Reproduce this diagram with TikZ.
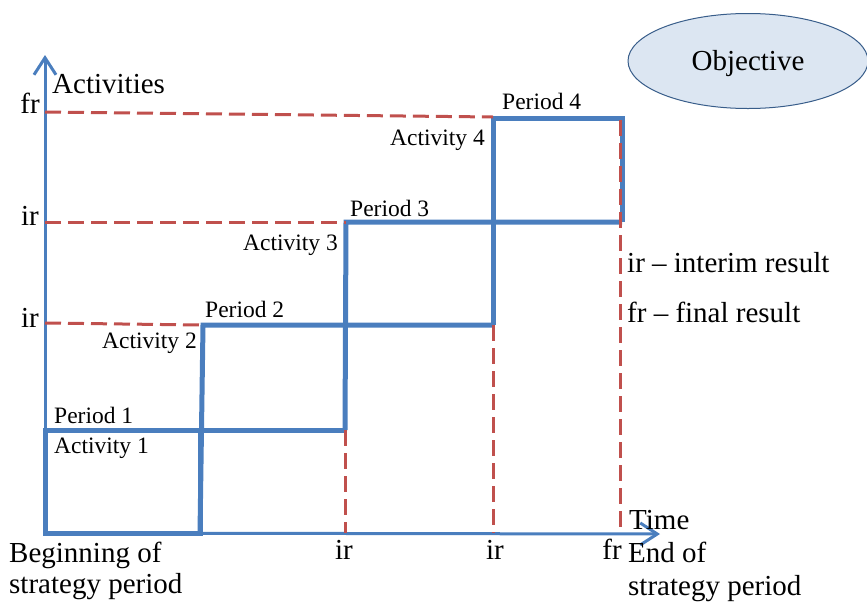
\documentclass[tikz,border=0pt]{standalone}
\usepackage{fontspec}
\setmainfont{Liberation Serif}
\usetikzlibrary{arrows.meta,shapes.geometric}
\definecolor{lineblue}{RGB}{74,126,190}
\definecolor{resultred}{RGB}{192,80,77}
\definecolor{goalfill}{RGB}{220,230,242}
\definecolor{goalline}{RGB}{56,93,138}
\begin{document}
\begin{tikzpicture}[x=1pt,y=-1pt,
  axisline/.style={draw=lineblue, line width=3pt,
    -{Straight Barb[length=17pt,width=22pt]}},
  stepline/.style={draw=lineblue, line width=5pt, line join=miter},
  resultline/.style={draw=resultred, line width=3pt, dash pattern=on 16pt off 7pt},
  big/.style={font=\fontsize{29}{31}\selectfont, inner sep=0pt},
  small/.style={font=\fontsize{23.5}{26}\selectfont, inner sep=0pt}]
\useasboundingbox (0,0) rectangle (867,603);

% grid points of the staircase
\coordinate (o)  at (45,533);
\coordinate (a1) at (45,430);
\coordinate (b0) at (200,533);
\coordinate (b1) at (200,430);
\coordinate (b2) at (203,325);
\coordinate (c1) at (345,430);
\coordinate (c2) at (345,325);
\coordinate (c3) at (346,222);
\coordinate (d2) at (493,325);
\coordinate (d3) at (493,222);
\coordinate (d4) at (493,118);
\coordinate (e3) at (622,222);
\coordinate (e4) at (622,118);
\coordinate (ytip) at (45,55);
\coordinate (xtip) at (660,534);

% axes
\draw[axisline] (o) -- (ytip);
\draw[axisline] (o) -- (xtip);

% activities as steps over the periods
\draw[stepline] (a1) rectangle (b0);
\draw[stepline] (b1) -- (c1);
\draw[stepline] (b0) -- (b2) -- (d2);
\draw[stepline] (c1) -- (c3) -- (e3);
\draw[stepline] (d2) -- (d4) -- (e4) -- (e3);

% result levels and result times
\coordinate (frl) at (45,112);
\coordinate (frr) at (493,117);
\coordinate (ir2l) at (45,222);
\coordinate (ir1l) at (45,323);
\coordinate (ir1r) at (201,325);
\coordinate (t1) at (345,533);
\coordinate (t2) at (493,533);
\coordinate (t3top) at (620,120);
\coordinate (t3) at (620,533);
\draw[resultline] (frl) -- (frr);
\draw[resultline] (ir2l) -- (c3);
\draw[resultline] (ir1l) -- (ir1r);
\draw[resultline] (c1) -- (t1);
\draw[resultline] (d2) -- (t2);
\draw[resultline] (t3top) -- (t3);

% objective
\node[ellipse, draw=goalline, line width=1pt, fill=goalfill,
      minimum width=240pt, minimum height=95pt, inner sep=0pt] (goal) at (748,61) {};
\node[big, anchor=base] (goaltext) at (748,70) {Objective};

% axis labels
\node[big, anchor=base west] (yl) at (52,93) {Activities};
\node[big, anchor=base east] (yfr) at (40,113) {fr};
\node[big, anchor=base east] (yir2) at (39,225) {ir};
\node[big, anchor=base east] (yir1) at (39,327) {ir};
\node[big, anchor=base] (xir1) at (344,559) {ir};
\node[big, anchor=base] (xir2) at (495,559) {ir};
\node[big, anchor=base] (xfr) at (612,559) {fr};
\node[big, anchor=base west] (xl) at (629,529) {Time};
\node[big, anchor=base west] (end1) at (628,562) {End of};
\node[big, anchor=base west] (end2) at (628,595) {strategy period};
\node[big, anchor=base west] (beg1) at (9,562) {Beginning of};
\node[big, anchor=base west] (beg2) at (9,593) {strategy period};

% legend
\node[big, anchor=base west] (lg1) at (627,272) {ir -- interim result};
\node[big, anchor=base west] (lg2) at (627,322) {fr -- final result};

% step labels
\node[small, anchor=base west] (p1) at (54,423) {Period 1};
\node[small, anchor=base west] (a1l) at (54,453) {Activity 1};
\node[small, anchor=base west] (p2) at (205,317) {Period 2};
\node[small, anchor=base east] (a2l) at (197,348) {Activity 2};
\node[small, anchor=base west] (p3) at (350,216) {Period 3};
\node[small, anchor=base east] (a3l) at (338,250) {Activity 3};
\node[small, anchor=base west] (p4) at (502,109) {Period 4};
\node[small, anchor=base east] (a4l) at (485,145) {Activity 4};
\end{tikzpicture}
\end{document}
